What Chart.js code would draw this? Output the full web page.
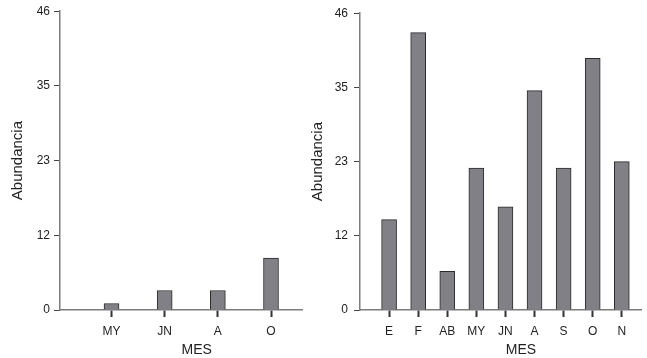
<!DOCTYPE html>
<html>
<head>
<meta charset="utf-8">
<script src="https://cdn.jsdelivr.net/npm/chart.js@4/dist/chart.umd.min.js"></script>
<style>
  html, body { margin: 0; padding: 0; background: #fff; }
  #wrap { position: relative; width: 647px; height: 358px; overflow: hidden; }
  #c1 { position: absolute; left: 0; top: 0; }
  #c2 { position: absolute; left: 305px; top: 0; }
</style>
</head>
<body>
<div id="wrap">
  <canvas id="c1" width="310" height="358"></canvas>
  <canvas id="c2" width="342" height="358"></canvas>
</div>
<script>
// Abundance per month, two sampling sets
const yTickValues = [0, 11.5, 23, 34.5, 46];
const yTickLabels = ['0', '12', '23', '35', '46'];

const monthsA = ['MY', 'JN', 'A', 'O'];
const abundA  = [1, 3, 3, 8];

const monthsB = ['E', 'F', 'AB', 'MY', 'JN', 'A', 'S', 'O', 'N'];
const abundB  = [14, 43, 6, 22, 16, 34, 22, 39, 23];

const yTitle = 'Abundancia';
const xTitle = 'MES';

const FONT = "'Liberation Sans', Arial, Helvetica, sans-serif";
const TEXT = '#222222';

// x-axis caption drawn slightly right of the plot centre
const captionPlugin = {
  id: 'xCaption',
  afterDraw(chart, args, opts) {
    const { ctx, chartArea } = chart;
    ctx.save();
    ctx.font = opts.size + 'px ' + FONT;
    ctx.fillStyle = opts.color;
    ctx.textAlign = 'center';
    ctx.textBaseline = 'middle';
    const x = chartArea.left + opts.frac * (chartArea.right - chartArea.left);
    ctx.fillText(opts.text, x, opts.y);
    ctx.restore();
  }
};

function makeChart(id, cats, vals, o) {
  return new Chart(document.getElementById(id), {
    type: 'bar',
    data: {
      datasets: [{
        data: cats.map((c, i) => ({ x: i + 1, y: vals[i] })),
        backgroundColor: '#808086',
        borderColor: '#2b2b2b',
        borderWidth: 1,
        borderSkipped: 'bottom',
        barThickness: 15
      }]
    },
    options: {
      responsive: false,
      animation: false,
      devicePixelRatio: 1,
      layout: { padding: { top: o.top, right: o.right, left: 0, bottom: 0 } },
      plugins: {
        legend: { display: false },
        tooltip: { enabled: false },
        xCaption: { text: xTitle, size: 14, color: TEXT, frac: o.capFrac, y: 350 }
      },
      scales: {
        x: {
          type: 'linear',
          min: o.xmin,
          max: o.xmax,
          offset: false,
          afterBuildTicks: s => { s.ticks = cats.map((c, i) => ({ value: i + 1 })); },
          afterFit: s => { s.height = 48; },
          ticks: {
            callback: v => cats[Math.round(v) - 1] ?? '',
            font: { family: FONT, size: 12 },
            color: TEXT,
            padding: 7,
            autoSkip: false,
            maxRotation: 0
          },
          grid: {
            offset: false,
            drawOnChartArea: false,
            drawTicks: true,
            tickLength: 7,
            tickColor: '#333333',
            tickWidth: 2,
            color: '#333333'
          },
          border: { color: '#7c7c7c', width: 1.5 }
        },
        y: {
          min: 0,
          max: 46,
          afterBuildTicks: s => { s.ticks = yTickValues.map(v => ({ value: v })); },
          afterFit: s => { s.width = o.yw; },
          ticks: {
            callback: (v, i) => yTickLabels[i],
            font: { family: FONT, size: 12 },
            color: TEXT,
            padding: o.tickPad
          },
          grid: {
            drawOnChartArea: false,
            drawTicks: true,
            tickLength: 6,
            tickColor: '#444444',
            tickWidth: 1,
            color: '#444444'
          },
          border: { color: '#7c7c7c', width: 1.5 },
          title: {
            display: true,
            text: yTitle,
            font: { family: FONT, size: 15 },
            color: TEXT,
            padding: { top: o.titlePad, bottom: 0 }
          }
        }
      }
    },
    plugins: [captionPlugin]
  });
}

makeChart('c1', monthsA, abundA, {
  top: 11, right: 8, yw: 60, xmin: 0.031, xmax: 4.583,
  tickPad: 4, titlePad: 9, capFrac: 0.565
});

makeChart('c2', monthsB, abundB, {
  top: 10, right: 6, yw: 55, xmin: 0.0, xmax: 9.66,
  tickPad: 6, titlePad: 4, capFrac: 0.573
});
</script>
</body>
</html>
